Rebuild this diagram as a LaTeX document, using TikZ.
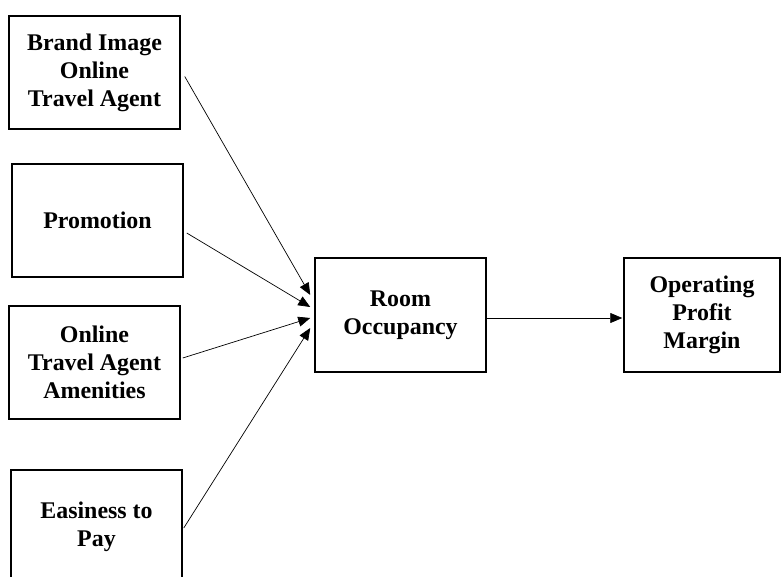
\documentclass[tikz,border=0pt]{standalone}
\usepackage{fontspec}
\setmainfont{Liberation Serif}
\usetikzlibrary{arrows.meta,calc}
\tikzset{
  boxnode/.style={draw, line width=1.5bp, minimum width=171bp, minimum height=113bp, align=center, inner sep=2bp,
    font=\fontsize{24}{28}\selectfont\bfseries},
  conn/.style={line width=0.7bp, -{Triangle[length=12bp,width=10bp]}}
}
\begin{document}
\begin{tikzpicture}[x=1bp,y=-1bp]
\clip (0,0) rectangle (782,577);
\fill[white] (0,0) rectangle (782,577);
\node[boxnode] (b1) at (94.5,72.5) {Brand Image\\Online\\Travel Agent};
\node[boxnode] (b2) at (97.5,220.5) {Promotion};
\node[boxnode] (b3) at (94.5,362.5) {Online\\Travel Agent\\Amenities};
\node[boxnode] (b4) at (96.5,526.5) {Easiness to\\Pay};
\node[boxnode, minimum height=114bp] (ro) at (400.5,315) {Room\\Occupancy};
\node[boxnode, minimum width=156bp, minimum height=114bp] (op) at (702,315) {Operating\\Profit\\Margin};
\draw[conn] ($(b1.east)+(4,4)$) -- ($(ro.west)+(-4,-20)$);
\draw[conn] ($(b2.east)+(3,12.5)$) -- ($(ro.west)+(-4,-8)$);
\draw[conn] ($(b3.east)+(2,-4.5)$) -- ($(ro.west)+(-4,3)$);
\draw[conn] ($(b4.east)+(1,1.5)$) -- ($(ro.west)+(-4,13)$);
\draw[conn] ($(ro.east)+(0,3)$) -- ($(op.west)+(-1,3)$);
\end{tikzpicture}
\end{document}
